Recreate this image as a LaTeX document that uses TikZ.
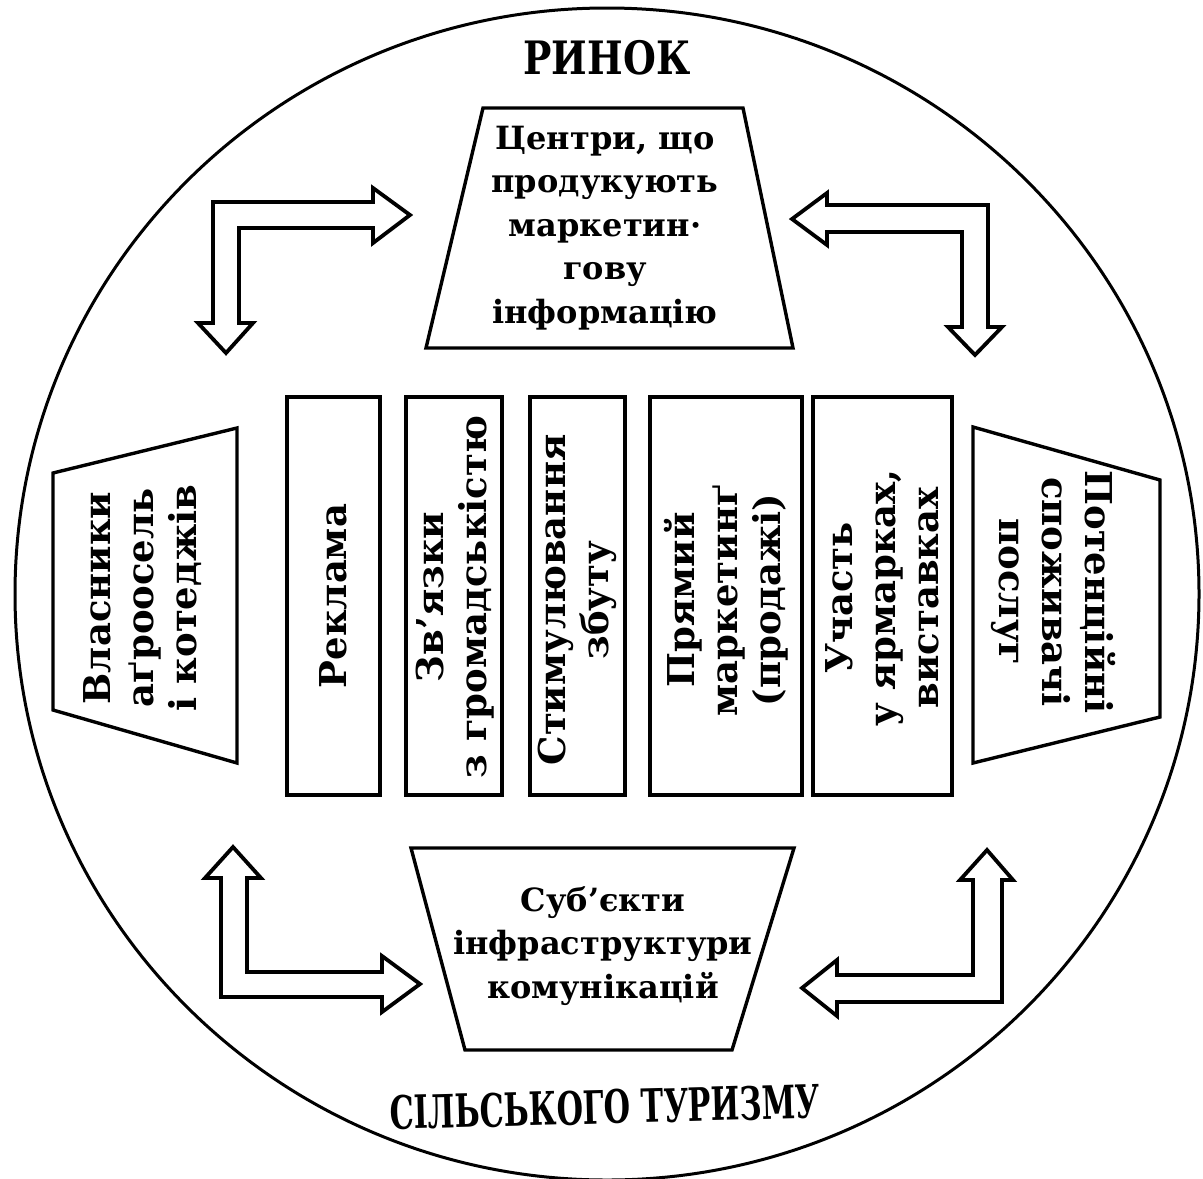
\documentclass[tikz,border=0pt]{standalone}
\usepackage{fontspec}
\setmainfont{DejaVu Serif}
\begin{document}
\begin{tikzpicture}[x=0.5pt,y=-0.5pt,line join=miter]
\tikzset{
  frameline/.style={line width=1.5pt},
  boxline/.style={draw,line width=1.7pt},
  blockarrow/.style={draw,line width=1.9pt,fill=white},
  toptext/.style={font=\bfseries\fontsize{16}{21.75}\selectfont,align=center,inner sep=0pt},
  midtext/.style={font=\bfseries\fontsize{18.5}{21.5}\selectfont,align=center,inner sep=0pt},
  titletext/.style={font=\bfseries\fontsize{23}{24}\selectfont,inner sep=0pt}
}
\useasboundingbox (0,0) rectangle (1203,1178);
% outer circle
\draw[frameline] (607,594) ellipse [x radius=592, y radius=586];
% titles
\node[titletext] (market) at (607,58) {\scalebox{0.82}[1]{РИНОК}};
\node[titletext,rotate=1.5] (rural) at (605,1107) {\scalebox{0.66}[1]{СІЛЬСЬКОГО ТУРИЗМУ}};
% top trapezoid
\draw[boxline] (483,108) -- (743,108) -- (793,348) -- (426,348) -- cycle;
\node[toptext] (centers) at (605,228) {Центри, що\\продукують\\маркетин·\\гову\\інформацію};
% bottom trapezoid
\draw[boxline] (411,848) -- (794,848) -- (732,1050) -- (465,1050) -- cycle;
\node[toptext] (subjects) at (603,946) {Суб’єкти\\інфраструктури\\комунікацій};
% left trapezoid
\draw[boxline] (237,428) -- (237,763) -- (53,710) -- (53,473) -- cycle;
\node[midtext,rotate=90] (owners) at (143,598) {Власники\\аґроосель\\і котеджів};
% right trapezoid
\draw[boxline] (973,427) -- (1160,480) -- (1160,717) -- (973,763) -- cycle;
\node[midtext,rotate=-90] (consumers) at (1053,592) {Потенційні\\споживачі\\послуг};
% middle rectangles
\draw[boxline] (287,397) rectangle (380,795);
\node[midtext,rotate=90] (ads) at (333,596) {Реклама};
\draw[boxline] (406,397) rectangle (502,795);
\node[midtext,rotate=90] (pr) at (455,597) {Зв’язки\\з громадськістю};
\draw[boxline] (530,397) rectangle (625,795);
\node[midtext,rotate=90] (sales) at (577,600) {Стимулювання\\збуту};
\draw[boxline] (650,397) rectangle (802,795);
\node[midtext,rotate=90] (direct) at (726,600) {Прямий\\маркетинґ\\(продажі)};
\draw[boxline] (813,397) rectangle (952,795);
\node[midtext,rotate=90] (fairs) at (882,598) {Участь\\у ярмарках,\\виставках};
% block arrows
\draw[blockarrow] (239,323) -- (253,323) -- (226,353) -- (198,323) -- (213,323) -- (213,202)
  -- (373,202) -- (373,188) -- (410,215) -- (373,243) -- (373,228) -- (239,228) -- cycle;
\draw[blockarrow] (962,327) -- (948,327) -- (975,355) -- (1002,327) -- (988,327) -- (988,205)
  -- (827,205) -- (827,193) -- (792,219) -- (827,245) -- (827,232) -- (962,232) -- cycle;
\draw[blockarrow] (221,878) -- (205,878) -- (233,847) -- (261,878) -- (247,878) -- (247,972)
  -- (382,972) -- (382,956) -- (420,984) -- (382,1012) -- (382,997) -- (221,997) -- cycle;
\draw[blockarrow] (973,880) -- (960,880) -- (987,850) -- (1013,880) -- (1002,880) -- (1002,1002)
  -- (837,1002) -- (837,1016) -- (802,988) -- (837,960) -- (837,975) -- (973,975) -- cycle;
\end{tikzpicture}
\end{document}
